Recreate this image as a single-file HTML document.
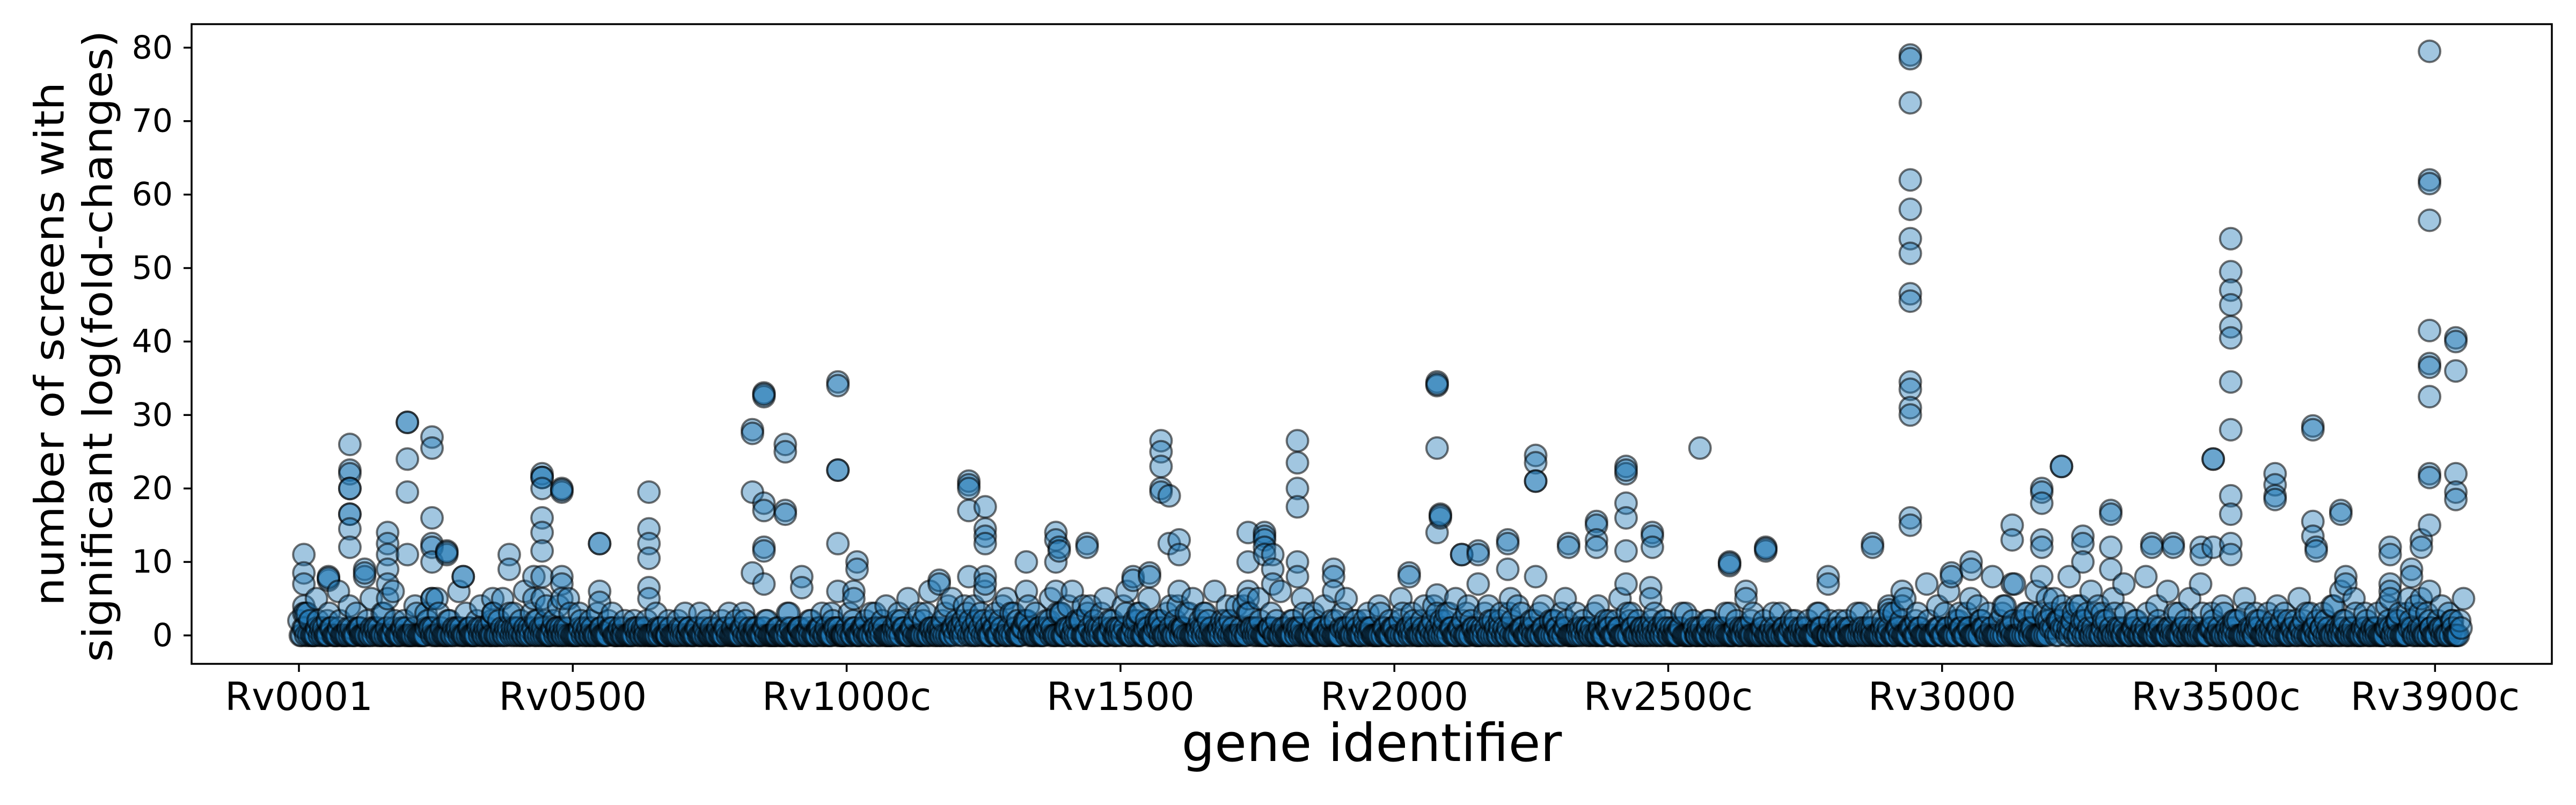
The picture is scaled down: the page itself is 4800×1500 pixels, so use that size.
<!DOCTYPE html>
<html><head><meta charset="utf-8"><style>
html,body{margin:0;padding:0;background:#fff;}
svg{display:block;font-family:"DejaVu Sans","Liberation Sans",sans-serif;}
</style></head><body>
<svg id="chart" width="4800" height="1500" viewBox="0 0 4800 1500" xmlns="http://www.w3.org/2000/svg">
<rect x="0" y="0" width="4800" height="1500" fill="#fff"/>
<g id="points"></g>
<g id="axes"></g>
<text transform="translate(92,641) rotate(-90)" text-anchor="middle" dominant-baseline="central" font-size="76" textLength="976" lengthAdjust="spacingAndGlyphs">number of screens with</text>
<text transform="translate(182,645) rotate(-90)" text-anchor="middle" dominant-baseline="central" font-size="76" textLength="1177" lengthAdjust="spacingAndGlyphs">significant log(fold-changes)</text>
<text x="2556" y="1418" text-anchor="middle" font-size="97">gene identifier</text>
</svg>
<script>
const xTickGenes = [0, 500, 1000, 1500, 2000, 2500, 3000, 3500, 3900];
const xTickLabels = ["Rv0001", "Rv0500", "Rv1000c", "Rv1500", "Rv2000", "Rv2500c", "Rv3000", "Rv3500c", "Rv3900c"];
const yTickValues = [0, 10, 20, 30, 40, 50, 60, 70, 80];
const baseStep = 10;
const baseCount = 395;
const baseA = "2120101001010010100101001010010100100101" +
"1010120101001001010000100010001000100010" +
"0100010001000101001010010110012010201030" +
"2131020120301201020310203010201302010201" +
"2030102010201011010010010100100102010010" +
"1201020201301020102013010201020100101001" +
"0102010201001000100010001001000100100010" +
"0100010001001010100101020102010302020302" +
"3241302030201001000100101001010010201020" +
"1020102010201001000101020301020102010201";
const baseB = "0302130201302013020103021302013020132031" +
"2032102013020130201201020102013010201030" +
"0201020103010203021031023020131020310241" +
"1420312041302130213041204130214023102130" +
"4130231024104312032102130210203120210301" +
"0312041023102410321302410230213201203120" +
"2031201302103021020130201302013020120302" +
"1020310201302013020130213041302410231032" +
"5231423142031302130201302013021302031203" +
"2130213023140213021302130241302130201020";
const baseC = "0001000100000100010000010000100001000010" +
"0100001000010000010001000010000100010000" +
"0010000100010000100001000100001000010001" +
"1000100010001000100010001000100010001000" +
"0100010001000100010000100010001000100010" +
"0010001000100010000100010001000100010001" +
"0001000010001000010000100001000010000100" +
"0100001000100010000100010001000010001000" +
"1010010001000100010001000100010001000100" +
"0100010001000100010001000100010001000100";
const baseD = "1000010000100100001000010000100010000100" +
"0010000100001000100000100001000010000100" +
"1000100001000010010000100010000100001000" +
"0102001000102000100010200010001000201000" +
"1000100010000100010001000010001000010001" +
"0001000100010000100010001000010000100010" +
"1000010001000010001000010000100010000100" +
"0010001000010001000010001001000100010001" +
"0102001000100010000100010000100010000100" +
"0001000100001000100001000100001000100010";
const midStep = 20;
const baseE = "35264153624352614253624153" +
"213121302130213120312130213" +
"425361524635241536425163524153624351625" +
"3425134253142531425314253142531" +
"1213021312031213021312" +
"35274635284736528463572846357" +
"342531425314253142531425";
const colGenes = [9,54,93,120,162,198,243,270,300,354,384,429,444,474,480,549,639,798,828,849,888,918,984,1013,1019,1169,1223,1253,1328,1382,1388,1439,1523,1553,1574,1589,1607,1733,1763,1778,1823,1889,2027,2078,2084,2123,2153,2207,2258,2318,2369,2423,2468,2471,2558,2612,2642,2678,2792,2873,2903,2927,2942,3017,3053,3128,3182,3218,3257,3308,3383,3422,3473,3495,3527,3608,3677,3683,3728,3737,3818,3857,3875,3890,3938];
const colValues = [
[11,8.5,7,4,3],[7.5,8,7.8],[26,22.5,22,20,20,16.5,16.5,14.5,12],[9,8,8.5],[14,12.5,11,9,7,5],[29,29,24,19.5,11],[27,25.5,16,12.5,12,10,5,5],[11.5,11,11.3],[8,8],[5,3],[11,9],[8,5],[22,21.5,21.5,20,16,14,11.5,8,5],[4],[20,19.5,19.8,8,7,5],[12.5,12.5,6,4.5],[19.5,14.5,12.5,10.5,6.5,5],[2],[28,27.5,19.5,8.5],[33,32.5,32.8,18,17,12,11.5,7],[26,25,17,16.5],[8,6.5],[34.5,34,22.5,22.5,12.5,6],[6,5],[10,9],[7.5,7],[21,20.5,20,17,8],[17.5,14.5,13.5,12.5,8,7],[10,6],[14,13,10,6],[12,11.5],[12.5,12],[8,7.5],[8.5,8],[26.5,25,23,20,19.5],[19,12.5],[13,11,6],[14,10,6,5],[14,13.5,13,12,11],[11,9,7],[26.5,23.5,20,17.5,10,8],[9,8,6],[8.5,8],[34.5,34,34.2,25.5,14,5.5,3],[16.5,16,16.3],[11,11],[11.5,11,7],[13,12.5,9],[24.5,23.5,21,21,8],[12.5,12],[15.5,15,13,12],[23,22,22.5,18,16,11.5,7],[6.5,5],[14,13.5,12],[25.5],[10,9.5,9.8],[6,5],[12,11.5,11.8],[8,7],[12.5,12],[4,3.5],[6,4],[79,78.5,72.5,62,58,54,52,46.5,45.5,34.5,33.5,31,30,16,15],[8.5,8],[10,9],[15,13,7],[20,19.5,18,13,12,8],[23,23],[13.5,12.5,10],[17,16.5,12,9],[12.5,12],[12.5,12],[12,11],[24,24,12],[54,49.5,47,45,42,40.5,34.5,28,19,16.5,12.5,11],[22,20.5,19,18.5],[28.5,28,15.5,13.5],[12,11.5],[17,16.5,6],[8,7],[12,11,7,6,5],[9,8],[13,12,5],[79.5,62,61.5,56.5,41.5,37,36.5,32.5,22,21.5,15,6],[40.5,40,36,22,19.5,18.5],[4,3,1]];

const X0 = 557, PXG = 1.0206, Y0 = 1184, PXV = 13.69;
function xScale(g){ return X0 + g * PXG; }
function yScale(v){ return Y0 - v * PXV; }
const NS = "http://www.w3.org/2000/svg";
const pts = document.getElementById('points');
const all = [];
for (let i = 0; i < baseCount; i++) {
  all.push([i*baseStep, +baseA[i]]);
  all.push([i*baseStep+2.5, +baseC[i]]);
  all.push([i*baseStep+5, +baseB[i]]);
  all.push([i*baseStep+7.5, +baseD[i]]);
}
for (let i = 0; i < baseE.length; i++) all.push([i*midStep+12, +baseE[i]]);
colGenes.forEach((g, k) => colValues[k].forEach(v => all.push([g, v])));
all.sort((a,b)=>a[0]-b[0]);
all.forEach(p => {
  const c = document.createElementNS(NS, 'circle');
  
  
  c.setAttribute('cx', xScale(p[0]).toFixed(1));
  c.setAttribute('cy', yScale(p[1]).toFixed(1));
  c.setAttribute('r', 20);
  c.setAttribute('fill', 'rgba(31,119,180,0.42)');
  c.setAttribute('stroke', 'rgba(0,0,0,0.55)');
  c.setAttribute('stroke-width', 4);
  pts.appendChild(c);
});
const ax = document.getElementById('axes');
const frame = document.createElementNS(NS, 'rect');


frame.setAttribute('x', 357); frame.setAttribute('y', 45);
frame.setAttribute('width', 4398); frame.setAttribute('height', 1192);
frame.setAttribute('fill', 'none'); frame.setAttribute('stroke', '#000'); frame.setAttribute('stroke-width', 3.5);
ax.appendChild(frame);
yTickValues.forEach(v => {
  const y = yScale(v);
  const t = document.createElementNS(NS, 'line');
  
  
  t.setAttribute('x1', 342); t.setAttribute('x2', 357); t.setAttribute('y1', y); t.setAttribute('y2', y);
  t.setAttribute('stroke', '#000'); t.setAttribute('stroke-width', 3.5);
  ax.appendChild(t);
  const l = document.createElementNS(NS, 'text');
  
  
  l.setAttribute('x', 322); l.setAttribute('y', y); l.setAttribute('text-anchor', 'end');
  l.setAttribute('dominant-baseline', 'central'); l.setAttribute('font-size', 60);
  l.textContent = String(v);
  ax.appendChild(l);
});
xTickGenes.forEach((g, k) => {
  const x = xScale(g);
  const t = document.createElementNS(NS, 'line');
  
  
  t.setAttribute('x1', x); t.setAttribute('x2', x); t.setAttribute('y1', 1237); t.setAttribute('y2', 1252);
  t.setAttribute('stroke', '#000'); t.setAttribute('stroke-width', 3.5);
  ax.appendChild(t);
  const l = document.createElementNS(NS, 'text');
  
  
  l.setAttribute('x', x); l.setAttribute('y', 1323); l.setAttribute('text-anchor', 'middle');
  l.setAttribute('font-size', 72);
  l.textContent = xTickLabels[k];
  ax.appendChild(l);
});
</script>
</body></html>
